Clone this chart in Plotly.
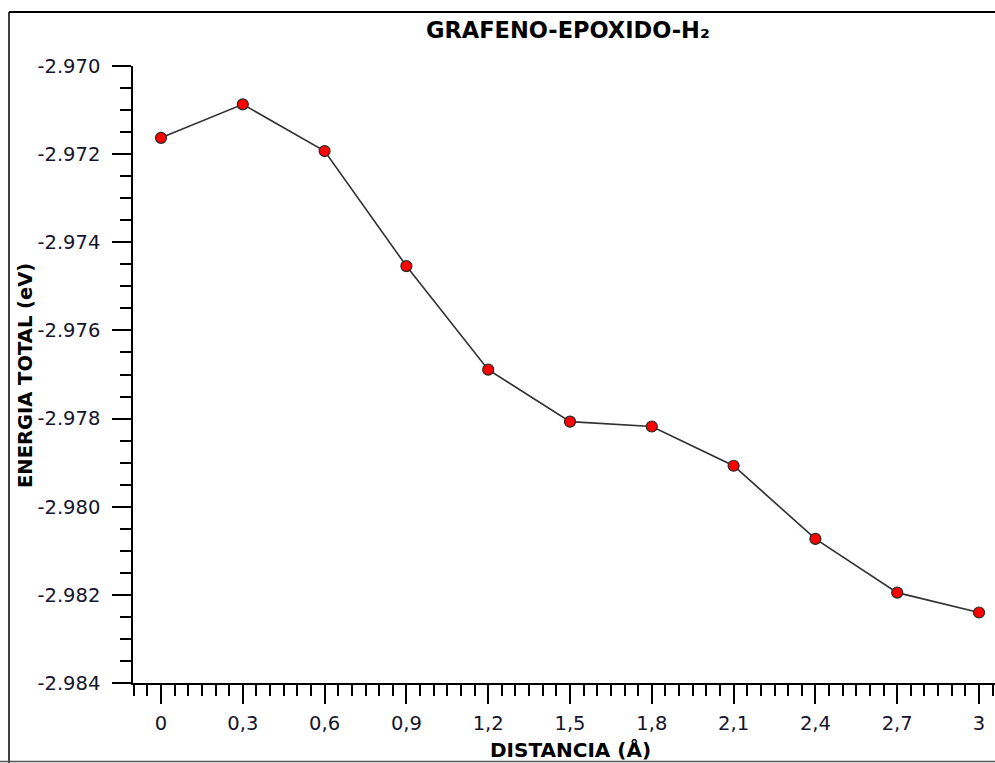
import plotly.graph_objects as go

# ---- data ----
distancia = [0, 0.3, 0.6, 0.9, 1.2, 1.5, 1.8, 2.1, 2.4, 2.7, 3.0]
energia = [-2.97163, -2.97087, -2.97193, -2.97454, -2.97689, -2.97807,
           -2.97818, -2.97907, -2.98073, -2.98195, -2.98240]
x_tickvals = [0, 0.3, 0.6, 0.9, 1.2, 1.5, 1.8, 2.1, 2.4, 2.7, 3.0]
x_ticktext = ["0", "0,3", "0,6", "0,9", "1,2", "1,5", "1,8", "2,1", "2,4", "2,7", "3"]
y_tickvals = [-2.970, -2.972, -2.974, -2.976, -2.978, -2.980, -2.982, -2.984]
y_ticktext = ["-2.970", "-2.972", "-2.974", "-2.976", "-2.978", "-2.980", "-2.982", "-2.984"]

W, H = 995, 763
L, R, T, B = 133, 0, 66, 80
pw, ph = W - L - R, H - T - B


def px(xp):
    return (xp - L) / pw


def py(yp):
    return (H - B - yp) / ph


FONT = "DejaVu Sans"
TXT = "#14142a"

fig = go.Figure()
fig.add_trace(go.Scatter(
    x=distancia, y=energia, mode="lines+markers",
    line=dict(color="#303030", width=1.6),
    marker=dict(color="#ff0000", size=11, line=dict(color="#2a2a2a", width=1.2)),
    showlegend=False, cliponaxis=False,
))

axis_common = dict(
    showline=True, linecolor="black", linewidth=1.5,
    ticks="outside", ticklen=19, tickwidth=1.5, tickcolor="black",
    showgrid=False, zeroline=False,
    tickfont=dict(family=FONT, size=19.5, color=TXT),
)

fig.update_xaxes(
    range=[(L - 161) / 272.67, (W - 161) / 272.67],
    tickmode="array", tickvals=x_tickvals, ticktext=x_ticktext,
    minor=dict(dtick=0.05, tick0=0, ticklen=11, tickwidth=1.5, tickcolor="black", ticks="outside", showgrid=False),
    ticklabelstandoff=3,
    **axis_common,
)
fig.update_yaxes(
    range=[-2.984, -2.970],
    tickmode="array", tickvals=y_tickvals, ticktext=y_ticktext,
    minor=dict(dtick=0.0005, tick0=-2.970, ticklen=11, tickwidth=1.5, tickcolor="black", ticks="outside", showgrid=False),
    ticklabelstandoff=8,
    **axis_common,
)

annotations = [
    dict(text="<b>GRAFENO-EPOXIDO-H₂</b>", x=px(568), y=py(30), xref="paper", yref="paper",
         showarrow=False, xanchor="center", yanchor="middle",
         font=dict(family=FONT, size=22.5, color="black")),
    dict(text="<b>DISTANCIA (Å)</b>", x=px(570), y=py(750), xref="paper", yref="paper",
         showarrow=False, xanchor="center", yanchor="middle",
         font=dict(family=FONT, size=20, color="black")),
    dict(text="<b>ENERGIA TOTAL (eV)</b>", x=px(25), y=py(376), xref="paper", yref="paper",
         showarrow=False, xanchor="center", yanchor="middle", textangle=-90,
         font=dict(family=FONT, size=19.5, color="black")),
]

shapes = [
    dict(type="line", xref="paper", yref="paper", x0=px(9), x1=px(9), y0=py(12), y1=py(763),
         line=dict(color="black", width=1.5)),
    dict(type="line", xref="paper", yref="paper", x0=px(9), x1=px(995), y0=py(12), y1=py(12),
         line=dict(color="black", width=2)),
    dict(type="line", xref="paper", yref="paper", x0=px(0), x1=px(995), y0=py(761.5), y1=py(761.5),
         line=dict(color="#555555", width=1.5)),
]

fig.update_layout(
    width=W, height=H,
    margin=dict(l=L, r=R, t=T, b=B),
    paper_bgcolor="white", plot_bgcolor="white",
    annotations=annotations, shapes=shapes,
)

fig.write_html("out.html")
